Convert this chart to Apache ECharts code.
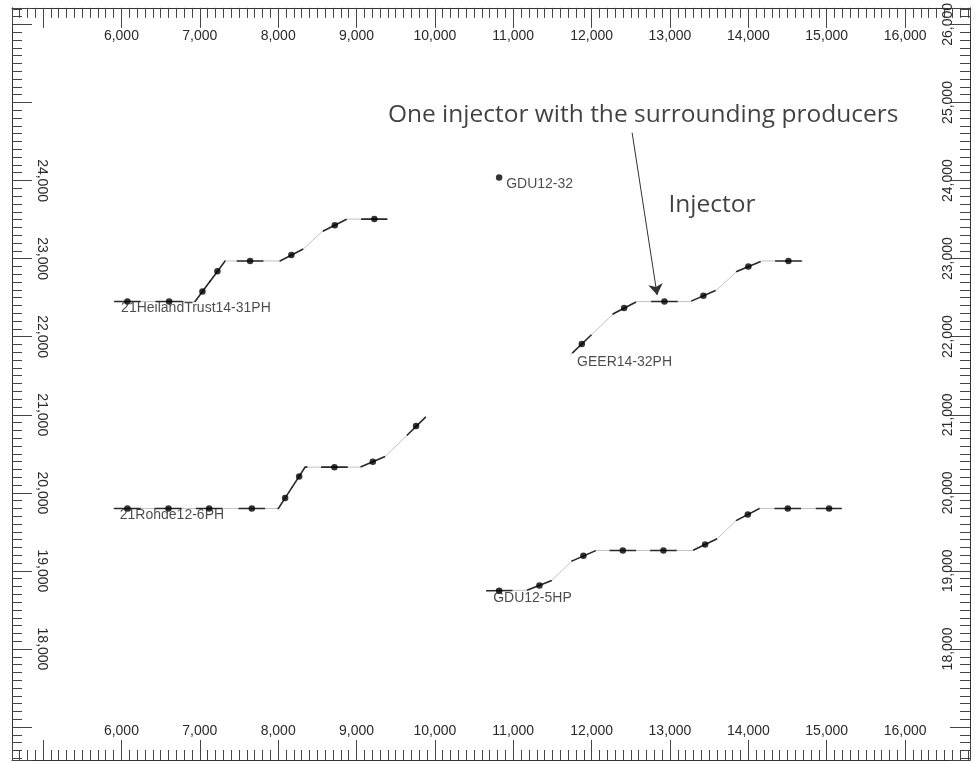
<!DOCTYPE html>
<html>
<head>
<meta charset="utf-8">
<script src="https://cdn.jsdelivr.net/npm/echarts@6/dist/echarts.min.js"></script>
<style>
  html, body { margin: 0; padding: 0; background: #ffffff; }
  #map { width: 975px; height: 765px; }
</style>
</head>
<body>
<div id="map"></div>
<script>
// Map window (easting / northing, ft)
const xRange = [4604, 16828];
const yRange = [16578, 26212];

// Coordinate labels printed on each side of the frame
const xTickLabels = [6000, 7000, 8000, 9000, 10000, 11000, 12000, 13000, 14000, 15000, 16000];
const leftTickLabels = [18000, 19000, 20000, 21000, 22000, 23000, 24000];
const rightTickLabels = [18000, 19000, 20000, 21000, 22000, 23000, 24000, 25000, 26000];

// Well names
const wellNames = ['21HeilandTrust14-31PH', 'GEER14-32PH', '21Rohde12-6PH', 'GDU12-5HP', 'GDU12-32'];

// Wellbore trajectories [easting, northing]
const heilandPath = [[5907, 22450], [6940, 22450], [7323, 22970], [8025, 22970], [8322, 23123], [8557, 23345], [8876, 23506], [9394, 23506]];
const geerPath = [[11725, 21763], [12278, 22294], [12577, 22450], [13257, 22450], [13597, 22600], [13852, 22835], [14172, 22970], [14695, 22970]];
const rohdePath = [[5890, 19800], [8003, 19800], [8344, 20329], [9044, 20329], [9365, 20465], [9888, 20976]];
const gdu5Path = [[10654, 18745], [11173, 18752], [11492, 18879], [11747, 19126], [12057, 19262], [13291, 19262], [13605, 19415], [13844, 19645], [14141, 19800], [15192, 19800]];
const gdu32Path = [[10820, 24038]];

// Stations marked along each wellbore
const heilandStations = [[6077, 22450], [6609, 22450], [7034, 22580], [7225, 22839], [7642, 22970], [8169, 23045], [8723, 23426], [9228, 23506]];
const geerStations = [[11875, 21908], [12415, 22368], [12929, 22450], [13426, 22524], [14000, 22898], [14511, 22970]];
const rohdeStations = [[6077, 19800], [6600, 19800], [7119, 19800], [7664, 19800], [8089, 19933], [8268, 20210], [8718, 20329], [9208, 20398], [9760, 20857]];
const gdu5Stations = [[10820, 18745], [11334, 18814], [11895, 19195], [12398, 19262], [12916, 19262], [13448, 19339], [13993, 19722], [14503, 19800], [15030, 19800]];
const gdu32Stations = [[10820, 24038]];

// Annotation: caption, arrow from caption to the injector, and the "Injector" tag
const captionText = 'One injector with the surrounding producers';
const captionAt = [12657, 24842];
const arrowFrom = [12517, 24612];
const arrowTo = [12836, 22533];
const tagText = 'Injector';
const tagAt = [13536, 23681];

const paths = [heilandPath, geerPath, rohdePath, gdu5Path, gdu32Path];
const stations = [heilandStations, geerStations, rohdeStations, gdu5Stations, gdu32Stations];

// Half-length (ft) of the darker interval drawn around each station
const HALF_SPAN = 170;

function cumulative(path) {
  const cum = [0];
  for (let i = 1; i < path.length; i++) {
    const dx = path[i][0] - path[i - 1][0];
    const dy = path[i][1] - path[i - 1][1];
    cum.push(cum[i - 1] + Math.hypot(dx, dy));
  }
  return cum;
}

function pointAt(path, cum, s) {
  for (let i = 1; i < path.length; i++) {
    if (s <= cum[i] || i === path.length - 1) {
      const seg = cum[i] - cum[i - 1] || 1;
      const t = Math.max(0, Math.min(1, (s - cum[i - 1]) / seg));
      return [path[i - 1][0] + t * (path[i][0] - path[i - 1][0]),
              path[i - 1][1] + t * (path[i][1] - path[i - 1][1])];
    }
  }
  return path[path.length - 1];
}

// distance along the path of the point closest to p
function project(path, cum, p) {
  let best = Infinity, bestS = 0;
  for (let i = 1; i < path.length; i++) {
    const ax = path[i - 1][0], ay = path[i - 1][1];
    const bx = path[i][0], by = path[i][1];
    const vx = bx - ax, vy = by - ay;
    const len2 = vx * vx + vy * vy || 1;
    const t = Math.max(0, Math.min(1, ((p[0] - ax) * vx + (p[1] - ay) * vy) / len2));
    const qx = ax + t * vx, qy = ay + t * vy;
    const d = Math.hypot(p[0] - qx, p[1] - qy);
    if (d < best) { best = d; bestS = cum[i - 1] + t * Math.sqrt(len2); }
  }
  return bestS;
}

function spanAround(path, p, half) {
  const cum = cumulative(path);
  const total = cum[cum.length - 1];
  const s0 = project(path, cum, p);
  const a = Math.max(0, s0 - half), b = Math.min(total, s0 + half);
  const pts = [pointAt(path, cum, a)];
  for (let i = 0; i < path.length; i++) {
    if (cum[i] > a && cum[i] < b) pts.push(path[i]);
  }
  pts.push(pointAt(path, cum, b));
  return pts;
}

const trajectoryData = [];
const spanData = [];
paths.forEach((path, w) => {
  if (path.length < 2) return;
  trajectoryData.push({ coords: path });
  stations[w].forEach(st => spanData.push({ coords: spanAround(path, st, HALF_SPAN) }));
});

const stationData = [];
stations.forEach(list => list.forEach(p => stationData.push(p)));

const nameData = paths.map((path, w) => ({ value: path[0], name: wellNames[w] }));

const fmt = v => String(v).replace(/\B(?=(\d{3})+(?!\d))/g, ',');
const labelFont = 'Liberation Sans, Arial, sans-serif';

function makeAxis(extra, labels) {
  const base = {
    type: 'value',
    minInterval: 1000,
    maxInterval: 1000,
    splitNumber: 12,
    axisLine: { show: true, onZero: false, lineStyle: { color: '#333', width: 1 } },
    axisTick: { show: true, inside: true, length: 20, lineStyle: { color: '#444', width: 1 } },
    minorTick: { show: true, splitNumber: 10, length: 10, lineStyle: { color: '#444', width: 1 } },
    splitLine: { show: false },
    minorSplitLine: { show: false },
    axisLabel: {
      inside: true,
      showMinLabel: false,
      showMaxLabel: false,
      color: '#2a2a2a',
      fontSize: 14,
      fontFamily: labelFont,
      formatter: v => (labels.includes(Math.round(v)) ? fmt(Math.round(v)) : '')
    }
  };
  const merged = Object.assign({}, base, extra);
  merged.axisLabel = Object.assign({}, base.axisLabel, extra.axisLabel || {});
  return merged;
}

const chart = echarts.init(document.getElementById('map'), null, { renderer: 'canvas' });

chart.setOption({
  animation: false,
  backgroundColor: '#ffffff',
  grid: { left: 12, right: 5, top: 5, bottom: 5, containLabel: false },
  xAxis: [
    makeAxis({ position: 'top', min: xRange[0], max: xRange[1], axisLabel: { margin: 21 } }, xTickLabels),
    makeAxis({ position: 'bottom', min: xRange[0], max: xRange[1], axisLabel: { margin: 22 } }, xTickLabels)
  ],
  yAxis: [
    makeAxis({ position: 'left', min: yRange[0], max: yRange[1], axisLabel: { margin: 23, rotate: -90 } }, leftTickLabels),
    makeAxis({ position: 'right', min: yRange[0], max: yRange[1], axisLabel: { margin: 15, rotate: 90 } }, rightTickLabels)
  ],
  series: [
    {
      name: 'trajectory',
      type: 'lines',
      coordinateSystem: 'cartesian2d',
      polyline: true,
      silent: true,
      z: 2,
      lineStyle: { color: '#c2c2c2', width: 1, opacity: 1 },
      data: trajectoryData
    },
    {
      name: 'station interval',
      type: 'lines',
      coordinateSystem: 'cartesian2d',
      polyline: true,
      silent: true,
      z: 3,
      lineStyle: { color: '#2a2a2a', width: 1.6, opacity: 1 },
      data: spanData
    },
    {
      name: 'stations',
      type: 'scatter',
      symbol: 'circle',
      symbolSize: 6.5,
      silent: true,
      z: 4,
      itemStyle: { color: '#000000' },
      data: stationData
    },
    {
      name: 'well names',
      type: 'scatter',
      symbolSize: 0,
      silent: true,
      z: 5,
      label: {
        show: true,
        position: 'inside',
        align: 'left',
        verticalAlign: 'middle',
        offset: [7, 7],
        color: '#1e1e1e',
        fontSize: 14,
        fontFamily: labelFont,
        formatter: p => p.name
      },
      data: nameData
    },
    {
      name: 'arrow',
      type: 'lines',
      coordinateSystem: 'cartesian2d',
      silent: true,
      z: 6,
      symbol: ['none', 'arrow'],
      symbolSize: [0, 11],
      lineStyle: { color: '#333', width: 1, opacity: 1 },
      data: [{ coords: [arrowFrom, arrowTo] }]
    },
    {
      name: 'notes',
      type: 'scatter',
      symbolSize: 0,
      silent: true,
      z: 6,
      label: {
        show: true,
        position: 'inside',
        align: 'center',
        verticalAlign: 'middle',
        color: '#111111',
        fontSize: 24.5,
        fontFamily: 'Open Sans, Noto Sans, sans-serif',
        formatter: p => p.name
      },
      data: [
        { value: captionAt, name: captionText },
        { value: tagAt, name: tagText }
      ]
    }
  ]
});
</script>
</body>
</html>
